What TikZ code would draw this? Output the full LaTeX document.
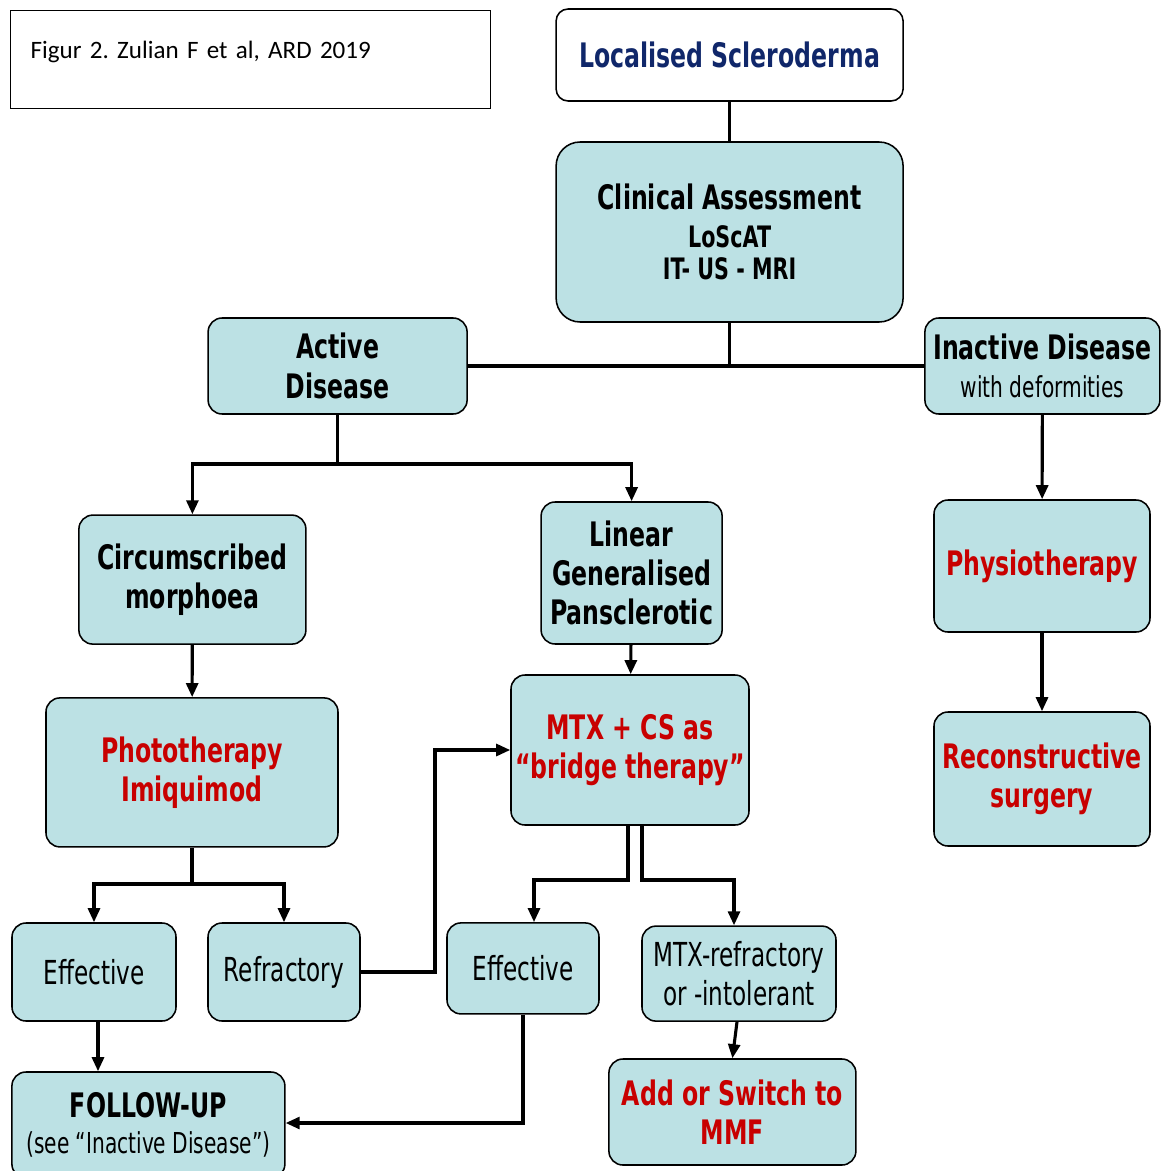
\documentclass[tikz,border=0pt]{standalone}
\usepackage{fontspec}
\setmainfont{DejaVu Sans}[FakeStretch=0.7]
\newfontfamily\capfont{Carlito}
\usepackage{tikz}
\usetikzlibrary{arrows.meta}
\definecolor{boxblue}{HTML}{BCE1E4}
\definecolor{redtxt}{HTML}{C80000}
\definecolor{navytxt}{HTML}{10276A}
\newcommand{\hfont}{\fontsize{24}{28}\selectfont\bfseries}
\newcommand{\nfont}{\fontsize{23.5}{28}\selectfont}
\frenchspacing

\begin{document}
\begin{tikzpicture}[
  box/.style={draw, line width=1.1pt, rounded corners=0.35cm, fill=boxblue, align=center, inner sep=2pt},
  arr/.style={line width=2.2pt, -{Triangle[length=10pt,width=8.5pt]}},
  conn/.style={line width=2.2pt}]
  \useasboundingbox (0,0) rectangle (29,-29.275);

  \node[draw, line width=1pt, anchor=north west, text width=11cm, inner xsep=0.5cm, inner ysep=0.3cm, text height=0.9cm, text depth=0.95cm, align=left, font=\capfont\fontsize{17.8}{20}\selectfont] at (0.25,-0.25) (figcap) {Figur 2. Zulian F et al, ARD 2019};

  \node[box, fill=white, rounded corners=0.3cm, minimum width=8.675cm, minimum height=2.3cm, text=navytxt, font=\hfont] at (18.24,-1.375) (ls) {Localised Scleroderma};
  \node[box, rounded corners=0.6cm, minimum width=8.675cm, minimum height=4.5cm, font=\fontsize{24}{26.5}\selectfont\bfseries] at (18.24,-5.8) (clin) {Clinical Assessment\\\fontsize{21}{26}\selectfont LoScAT\\[-3.5pt]\fontsize{21}{23}\selectfont IT- US - MRI};
  \draw[conn] (ls) -- (clin);

  \node[box, minimum width=6.475cm, minimum height=2.4cm, font=\hfont] at (8.44,-9.15) (act) {Active\\Disease};
  \node[box, minimum width=5.875cm, minimum height=2.4cm, font=\fontsize{24}{27}\selectfont\bfseries] at (26.06,-9.15) (inact) {Inactive Disease\\\mdseries\fontsize{20.5}{27}\selectfont with deformities};
  \draw[conn] (act.east) -- (inact.west);
  \draw[conn] (clin.south) -- (clin.south |- act.east);

  \node[box, minimum width=5.675cm, minimum height=3.225cm, font=\hfont] at (4.81,-14.49) (circ) {Circumscribed\\morphoea};
  \node[box, minimum width=4.525cm, minimum height=3.55cm, font=\hfont] at (15.79,-14.325) (lin) {Linear\\Generalised\\Pansclerotic};
  \coordinate (ja) at (8.44,-11.6);
  \draw[arr] (act.south) -- (ja) -| (circ.north);
  \draw[arr] (ja) -| (lin.north);

  \node[box, minimum width=7.3cm, minimum height=3.725cm, text=redtxt, font=\hfont] at (4.8,-19.31) (photo) {Phototherapy\\Imiquimod};
  \node[box, minimum width=5.95cm, minimum height=3.75cm, text=redtxt, font=\hfont] at (15.75,-18.75) (mtx) {MTX + CS as\\“bridge therapy”};
  \draw[arr] (circ) -- (photo);
  \draw[arr] (lin) -- (mtx);

  \node[box, minimum width=5.4cm, minimum height=3.3cm, text=redtxt, font=\hfont] at (26.05,-14.15) (physio) {Physiotherapy};
  \node[box, minimum width=5.4cm, minimum height=3.35cm, text=redtxt, font=\hfont] at (26.05,-19.475) (recon) {Reconstructive\\surgery};
  \draw[arr] (inact) -- (physio);
  \draw[arr] (physio) -- (recon);

  \node[box, minimum width=4.1cm, minimum height=2.45cm, font=\nfont] at (2.35,-24.3) (eff1) {Effective};
  \node[box, minimum width=3.8cm, minimum height=2.45cm, font=\nfont] at (7.1,-24.3) (refr) {Refractory};
  \coordinate (jp) at (4.8,-22.1);
  \draw[arr] (photo.south) -- (jp) -| (eff1.north);
  \draw[arr] (jp) -| (refr.north);
  \coordinate (jr) at (10.875,0);
  \draw[arr] (refr.east) -| (jr |- mtx.west) -- (mtx.west);

  \node[box, minimum width=3.8cm, minimum height=2.275cm, font=\nfont] at (13.075,-24.21) (eff2) {Effective};
  \node[box, minimum width=4.85cm, minimum height=2.375cm, font=\nfont] at (18.475,-24.34) (mref) {MTX-refractory\\or -intolerant};
  \coordinate (jm) at (0,-22);
  \draw[arr] ([xshift=-0.05cm]mtx.south) -- ([xshift=-0.05cm]mtx.south |- jm) -| ([xshift=0.275cm]eff2.north);
  \draw[arr] ([xshift=0.3cm]mtx.south) -- ([xshift=0.3cm]mtx.south |- jm) -| ([xshift=-0.125cm]mref.north);

  \node[box, minimum width=6.175cm, minimum height=2.65cm, text=redtxt, font=\hfont] at (18.31,-27.8) (addsw) {Add or Switch to\\MMF};
  \draw[arr] ([xshift=-0.05cm]mref.south) -- (addsw.north);

  \node[box, minimum width=6.825cm, minimum height=2.65cm, font=\fontsize{24}{26}\selectfont\bfseries] at (3.71,-28.125) (fup) {FOLLOW-UP\\\mdseries\fontsize{20.5}{26}\selectfont (see “Inactive Disease”)};
  \draw[arr] ([xshift=0.1cm]eff1.south) -- ([xshift=0.1cm]eff1.south |- fup.north);
  \draw[arr] (eff2.south) |- ([yshift=0.05cm]fup.east);
\end{tikzpicture}
\end{document}
